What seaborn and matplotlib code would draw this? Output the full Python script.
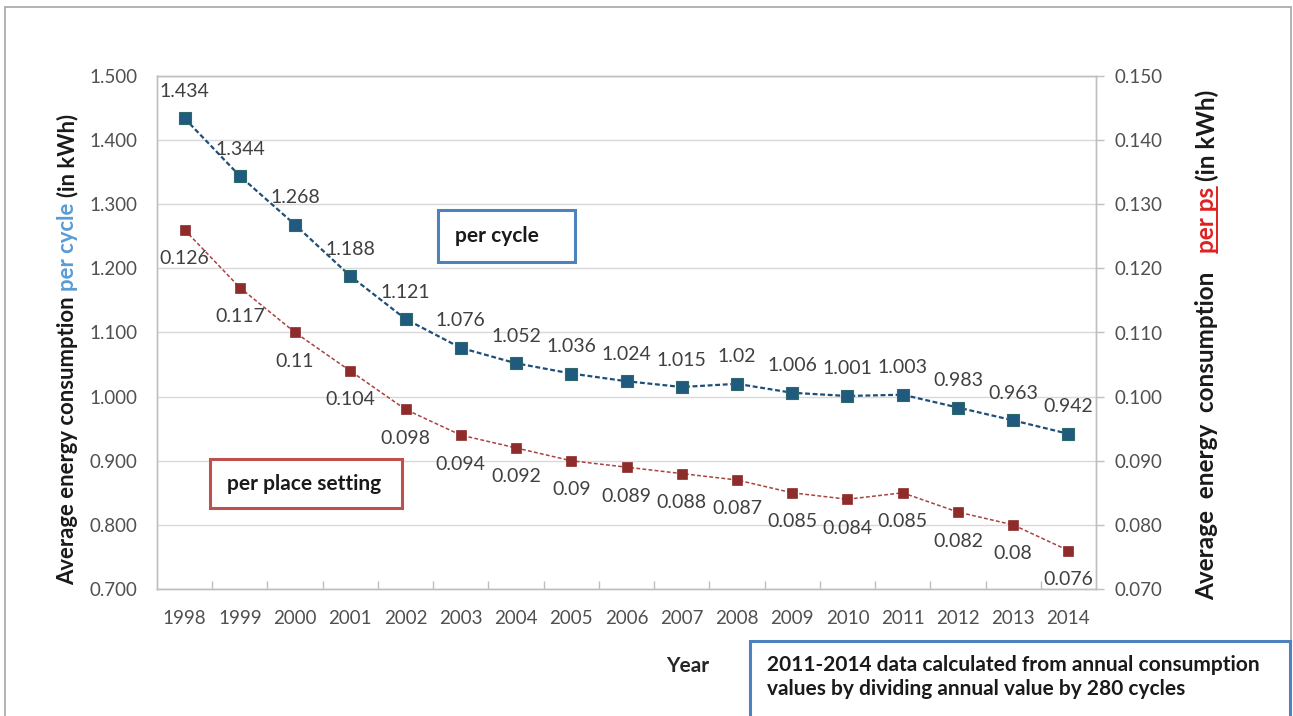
import matplotlib
matplotlib.use("Agg")
import matplotlib.pyplot as plt
from matplotlib.patches import Rectangle
from matplotlib.lines import Line2D
from matplotlib.ticker import FixedLocator, FormatStrFormatter
import seaborn as sns
import pandas as pd

years = [1998, 1999, 2000, 2001, 2002, 2003, 2004, 2005, 2006, 2007,
         2008, 2009, 2010, 2011, 2012, 2013, 2014]
per_cycle = [1.434, 1.344, 1.268, 1.188, 1.121, 1.076, 1.052, 1.036, 1.024,
             1.015, 1.02, 1.006, 1.001, 1.003, 0.983, 0.963, 0.942]
per_place_setting = [0.126, 0.117, 0.11, 0.104, 0.098, 0.094, 0.092, 0.09,
                     0.089, 0.088, 0.087, 0.085, 0.084, 0.085, 0.082, 0.08, 0.076]
left_ticks = [0.7, 0.8, 0.9, 1.0, 1.1, 1.2, 1.3, 1.4, 1.5]
right_ticks = [0.07, 0.08, 0.09, 0.10, 0.11, 0.12, 0.13, 0.14, 0.15]

df = pd.DataFrame({"year": years, "cycle": per_cycle, "ps": per_place_setting})

sns.set_theme(style="white")
FONT = ["Lato", "DejaVu Sans"]
plt.rcParams["font.family"] = FONT

W, H = 1293, 716
fig = plt.figure(figsize=(W / 100, H / 100), dpi=100)
fig.patch.set_facecolor("white")

def fx(px):
    return px / W

def fy(py):
    return 1 - py / H

ax = fig.add_axes([fx(157), fy(589), fx(1096) - fx(157), fy(76) - fy(589)])
ax2 = ax.twinx()

GRID = "#D9D9D9"
SPINE = "#BFBFBF"
TICKC = "#505050"
BLUE = "#215A7F"
BLUE_LINE = "#1F4E79"
RED = "#8E2B2B"
RED_LINE = "#A8423F"

# lines drawn with seaborn
sns.lineplot(data=df, x="year", y="cycle", ax=ax, color=BLUE_LINE,
             linestyle=(0, (2.2, 1.2)), linewidth=1.6, marker="s",
             markersize=8.5, markerfacecolor=BLUE, markeredgecolor="#2E6A6A",
             markeredgewidth=0.8, zorder=4)
sns.lineplot(data=df, x="year", y="ps", ax=ax2, color=RED_LINE,
             linestyle=(0, (2.5, 1.5)), linewidth=1.1, marker="s",
             markersize=7.5, markerfacecolor=RED, markeredgecolor=RED,
             markeredgewidth=0.5, zorder=4)

ax.set_xlim(1997.5, 2014.5)
ax.set_ylim(0.7, 1.5)
ax2.set_ylim(0.07, 0.15)

ax.yaxis.set_major_locator(FixedLocator(left_ticks))
ax2.yaxis.set_major_locator(FixedLocator(right_ticks))
ax.yaxis.set_major_formatter(FormatStrFormatter("%.3f"))
ax2.yaxis.set_major_formatter(FormatStrFormatter("%.3f"))

ax.set_xticks(years)
ax.set_xticklabels([str(y) for y in years])
ax.set_xticks([y + 0.5 for y in years[:-1]], minor=True)

ax.grid(axis="y", color=GRID, linewidth=1.0)
ax.set_axisbelow(True)
ax2.grid(False)

for a in (ax, ax2):
    for s in a.spines.values():
        s.set_color(SPINE)
        s.set_linewidth(1.0)
    a.set_xlabel("")
    a.set_ylabel("")

ax.tick_params(axis="x", which="major", length=0, pad=15, labelsize=13.5, labelcolor=TICKC)
ax.tick_params(axis="x", which="minor", length=6, width=1, color=SPINE, direction="in", bottom=True)
ax.tick_params(axis="y", length=0, pad=14, labelsize=13.5, labelcolor=TICKC)
ax2.tick_params(axis="y", length=6, width=1, color=SPINE, direction="out", pad=7,
                labelsize=13.5, labelcolor=TICKC, right=True)

# value labels
for x, v in zip(years, per_cycle):
    ax.annotate(f"{v:g}", (x, v), xytext=(0, 27), textcoords="offset pixels",
                ha="center", va="center", fontsize=14, color="#404040", zorder=5)
for x, v in zip(years, per_place_setting):
    ax2.annotate(f"{v:g}", (x, v), xytext=(0, -29), textcoords="offset pixels",
                 ha="center", va="center", fontsize=14, color="#404040", zorder=5)

# x axis title
fig.text(fx(688), fy(666), "Year", ha="center", va="center", fontsize=15,
         fontweight="bold", color="#262626")

# series boxes
def labelled_box(x0, y0, x1, y1, text, edge, tx):
    fig.add_artist(Rectangle((fx(x0), fy(y1)), fx(x1) - fx(x0), fy(y0) - fy(y1),
                             transform=fig.transFigure, facecolor="white",
                             edgecolor=edge, linewidth=2.2, zorder=6))
    fig.text(fx(tx), fy((y0 + y1) / 2), text, ha="left", va="center",
             fontsize=15, fontweight="bold", color="#1A1A1A", zorder=7)

labelled_box(438, 210, 575, 262, "per cycle", "#4F81BD", 455)
labelled_box(210, 459, 402, 508, "per place setting", "#C0504D", 227)

# footnote box
fig.add_artist(Rectangle((fx(750), fy(730)), fx(1290) - fx(750), fy(641) - fy(730),
                         transform=fig.transFigure, facecolor="white",
                         edgecolor="#4F81BD", linewidth=2.2, zorder=6, clip_on=False))
fig.text(fx(767), fy(677),
         "2011-2014 data calculated from annual consumption\n"
         "values by dividing annual value by 280 cycles",
         ha="left", va="center", fontsize=15, fontweight="bold",
         color="#1A1A1A", linespacing=1.2, zorder=7)

# outer frame
fig.add_artist(Rectangle((fx(5), fy(740)), fx(1291) - fx(5), fy(7) - fy(740),
                         transform=fig.transFigure, facecolor="none",
                         edgecolor="#A6A6A6", linewidth=1.2, zorder=1))

# rotated axis titles composed of coloured pieces, sized to a given length
fig.canvas.draw()
renderer = fig.canvas.get_renderer()

def rotated_title(xc_px, y_top, y_bottom, parts, gaps_em, size=16.0):
    texts = []
    for s, col, _ in parts:
        t = fig.text(0, 0, s, rotation=90, ha="center", va="bottom",
                     fontsize=size, fontweight="bold", color=col)
        texts.append(t)
    gaps = [g * size * 100 / 72 for g in gaps_em]
    heights = [t.get_window_extent(renderer).height for t in texts]
    total = sum(heights) + sum(gaps)
    k = (y_bottom - y_top) / total
    size *= k
    gaps = [g * k for g in gaps] + [0]
    for t in texts:
        t.set_fontsize(size)
    heights = [t.get_window_extent(renderer).height for t in texts]
    y = y_bottom
    for (s, col, underline), t, h, g in zip(parts, texts, heights, gaps):
        t.set_position((fx(xc_px), fy(y)))
        if underline:
            bb = t.get_window_extent(renderer)
            ux = fx(xc_px) + (bb.width / 2 - 2) / W
            fig.add_artist(Line2D([ux, ux], [fy(y), fy(y - h)],
                                  transform=fig.transFigure, color=col, linewidth=1.4))
        y -= h + g

rotated_title(68, 112, 585, [("Average energy consumption", "#1A1A1A", False),
                             ("per cycle", "#5B9BD5", False),
                             ("(in kWh)", "#1A1A1A", False)], gaps_em=[0.25, 0.25])
rotated_title(1207, 88, 600, [("Average  energy  consumption", "#1A1A1A", False),
                              ("per ps", "#E02020", True),
                              ("(in kWh)", "#1A1A1A", False)], gaps_em=[0.75, 0.25])

fig.savefig("out.png", dpi=100, facecolor="white")
